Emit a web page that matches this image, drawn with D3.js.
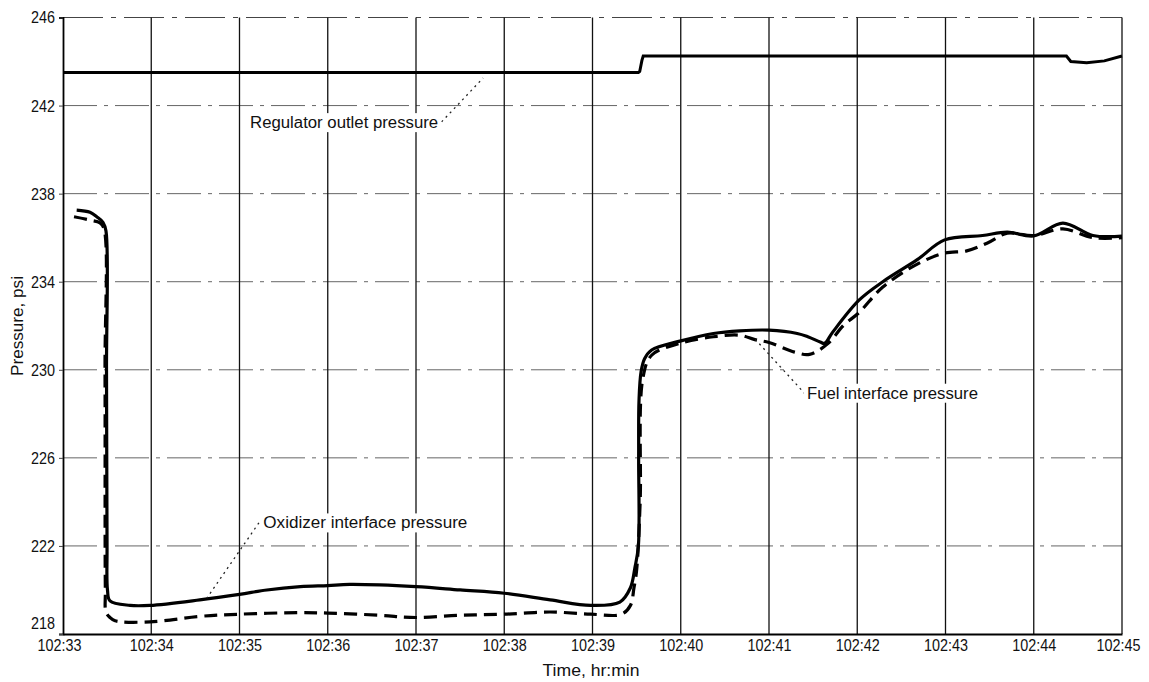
<!DOCTYPE html>
<html>
<head>
<meta charset="utf-8">
<script src="https://cdn.jsdelivr.net/npm/d3@7"></script>
<style>
  html, body { margin: 0; padding: 0; background: #fff; }
  svg { display: block; }
  text { font-family: "Liberation Sans", Arial, sans-serif; fill: #111; }
</style>
</head>
<body>
<svg id="chart" width="1149" height="682"></svg>
<script>
// ---- Data (time in minutes after 102:33) ----
const xTickLabels = ["102:33","102:34","102:35","102:36","102:37","102:38","102:39","102:40","102:41","102:42","102:43","102:44","102:45"];
const yTicks = [218, 222, 226, 230, 234, 238, 242, 246];

const regTime = [0, 6.52, 6.535, 6.56, 6.575, 11.37, 11.42, 11.6, 11.8, 12.0];
const regPsi  = [243.5, 243.5, 243.55, 244.05, 244.25, 244.25, 244.0, 243.95, 244.03, 244.25];

const oxTime = [0.155, 0.306, 0.382, 0.453, 0.487, 0.493, 0.499, 0.504, 0.533, 0.76, 0.986, 1.55, 2.0, 2.31, 2.69, 3.0, 3.25, 4.0, 4.5, 5.0, 5.52, 5.98, 6.31, 6.43, 6.48, 6.52, 6.523, 6.527, 6.55, 6.59, 6.67, 6.99, 7.37, 7.67, 8.0, 8.32, 8.44, 8.58, 8.63, 8.72, 9.02, 9.29, 9.68, 9.99, 10.42, 10.70, 11.0, 11.33, 11.67, 12.0];
const oxPsi  = [237.25, 237.15, 236.95, 236.7, 236.3, 230, 222, 220.0, 219.5, 219.3, 219.3, 219.55, 219.8, 220.0, 220.15, 220.2, 220.25, 220.15, 220.0, 219.85, 219.55, 219.3, 219.45, 220.1, 221.0, 222.0, 226.0, 228.6, 229.9, 230.5, 230.9, 231.3, 231.65, 231.77, 231.8, 231.65, 231.5, 231.26, 231.2, 231.7, 233.16, 234.0, 235.0, 235.9, 236.1, 236.25, 236.08, 236.66, 236.1, 236.07];

const fuelTime = [0.125, 0.306, 0.42, 0.465, 0.476, 0.48, 0.487, 0.533, 0.59, 0.986, 1.55, 2.0, 2.69, 3.0, 3.59, 4.0, 4.5, 5.0, 5.52, 5.98, 6.33, 6.43, 6.47, 6.50, 6.54, 6.57, 6.67, 6.99, 7.37, 7.67, 7.84, 8.0, 8.29, 8.46, 8.67, 8.84, 9.02, 9.29, 9.68, 9.99, 10.24, 10.47, 10.70, 11.0, 11.33, 11.67, 12.0];
const fuelPsi  = [236.95, 236.8, 236.67, 236.4, 230, 220, 219.0, 218.75, 218.6, 218.55, 218.8, 218.9, 218.97, 218.95, 218.85, 218.75, 218.85, 218.9, 219.0, 218.9, 218.9, 219.3, 220.1, 220.9, 224, 229.6, 230.66, 231.2, 231.5, 231.57, 231.37, 231.24, 230.8, 230.7, 231.2, 232.0, 232.6, 233.76, 234.8, 235.3, 235.4, 235.75, 236.2, 236.1, 236.4, 236.0, 236.0];

const annoText = ["Regulator outlet pressure", "Oxidizer interface pressure", "Fuel interface pressure"];
const annoPos  = [[2.12, 241.23], [2.27, 223.05], [8.43, 228.94]];
const annoFrom = [[4.29, 241.26], [2.22, 223.05], [8.41, 228.9]];
const annoTo   = [[4.76, 243.25], [1.63, 219.63], [7.82, 231.49]];
const annoLen  = [188, 204, 171];

// ---- Layout ----
const svg = d3.select("#chart");
const x = d3.scaleLinear().domain([0, 12]).range([63, 1122]);
const y = d3.scaleLinear().domain([218, 246]).range([634, 17.5]);

// Horizontal grid (dash-dot)
svg.append("g").selectAll("line").data(yTicks.filter(v => v > 218 && v < 246)).join("line")
  .attr("x1", x(0)).attr("x2", x(12))
  .attr("y1", d => y(d)).attr("y2", d => y(d))
  .attr("stroke", "#666").attr("stroke-width", 1)
  .attr("stroke-dasharray", "34,7,4,7");

// Top border (dash-dot)
svg.append("line")
  .attr("x1", x(0)).attr("x2", x(12)).attr("y1", y(246)).attr("y2", y(246))
  .attr("stroke", "#444").attr("stroke-width", 1)
  .attr("stroke-dasharray", "40,8,5,8");

// Vertical grid (solid)
svg.append("g").selectAll("line").data(d3.range(1, 13)).join("line")
  .attr("x1", d => x(d)).attr("x2", d => x(d))
  .attr("y1", y(246)).attr("y2", y(218))
  .attr("stroke", "#111").attr("stroke-width", 1.3);

// Axes
const xAxis = d3.axisBottom(x).tickValues(d3.range(0, 13)).tickFormat((d, i) => xTickLabels[i]).tickSize(0).tickPadding(5);
const gx = svg.append("g").attr("transform", `translate(0,${y(218)})`).call(xAxis);
gx.select(".domain").attr("stroke", "#000").attr("stroke-width", 1.8);
gx.selectAll("text").attr("font-size", 17).attr("fill", "#111")
  .attr("textLength", 44).attr("lengthAdjust", "spacingAndGlyphs")
  .attr("dx", d => d === 12 ? -4 : (d === 0 ? -4 : 0));

const yAxis = d3.axisLeft(y).tickValues(yTicks).tickFormat(d3.format("d")).tickSize(4).tickPadding(4);
const gy = svg.append("g").attr("transform", `translate(${x(0)},0)`).call(yAxis);
gy.select(".domain").attr("stroke", "#000").attr("stroke-width", 1.8);
gy.selectAll(".tick line").attr("stroke", "#444");
gy.selectAll("text").attr("font-size", 17).attr("fill", "#111")
  .attr("textLength", 24).attr("lengthAdjust", "spacingAndGlyphs")
  .attr("dy", d => d === 218 ? "-0.3em" : "0.32em");

// Axis titles
svg.append("text").attr("x", 591).attr("y", 676).attr("text-anchor", "middle")
  .attr("font-size", 17).attr("textLength", 97).attr("lengthAdjust", "spacingAndGlyphs").text("Time, hr:min");
svg.append("text").attr("transform", "translate(23,326) rotate(-90)").attr("text-anchor", "middle")
  .attr("font-size", 17).attr("textLength", 100).attr("lengthAdjust", "spacingAndGlyphs").text("Pressure, psi");

// Series
const zip = (a, b) => a.map((v, i) => [v, b[i]]);
const smooth = d3.line().x(d => x(d[0])).y(d => y(d[1])).curve(d3.curveCatmullRom.alpha(0.5));
const straight = d3.line().x(d => x(d[0])).y(d => y(d[1]));

svg.append("path").datum(zip(regTime, regPsi)).attr("d", straight)
  .attr("fill", "none").attr("stroke", "#000").attr("stroke-width", 3);

svg.append("path").datum(zip(fuelTime, fuelPsi)).attr("d", smooth)
  .attr("fill", "none").attr("stroke", "#000").attr("stroke-width", 3.2)
  .attr("stroke-dasharray", "13,7");

svg.append("path").datum(zip(oxTime, oxPsi)).attr("d", smooth)
  .attr("fill", "none").attr("stroke", "#000").attr("stroke-width", 3.2);

// Annotations
annoText.forEach((txt, i) => {
  const g = svg.append("g");
  g.append("line")
    .attr("x1", x(annoFrom[i][0])).attr("y1", y(annoFrom[i][1]))
    .attr("x2", x(annoTo[i][0])).attr("y2", y(annoTo[i][1]))
    .attr("stroke", "#222").attr("stroke-width", 1.3).attr("stroke-dasharray", "2,4");
  const bg = g.append("rect").attr("fill", "#fff");
  const t = g.append("text").attr("x", x(annoPos[i][0])).attr("y", y(annoPos[i][1]))
    .attr("font-size", 16).attr("dy", "0.35em")
    .attr("textLength", annoLen[i]).attr("lengthAdjust", "spacingAndGlyphs").text(txt);
  const bb = t.node().getBBox();
  bg.attr("x", bb.x - 3).attr("y", bb.y - 1).attr("width", bb.width + 6).attr("height", bb.height + 2);
});
</script>
</body>
</html>
